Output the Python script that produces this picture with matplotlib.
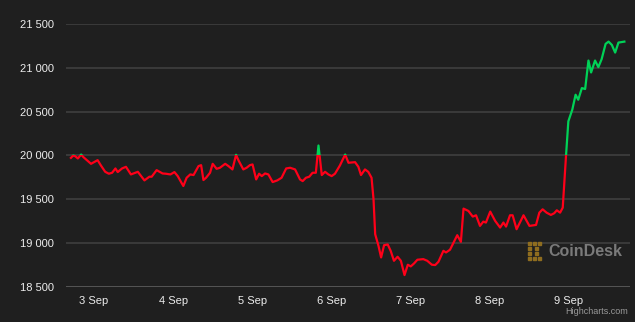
import numpy as np
import matplotlib.pyplot as plt
from matplotlib.patches import Rectangle

# hours since 3 Sep 00:00, and price (USD)
hours = [-7.0, -6.3, -5.7, -4.9, -3.9, -3.2, -2.4, -0.9, 1.1, 2.1, 3.4, 4.5, 5.5, 6.5,
         7.2, 8.5, 9.7, 11.2, 13.3, 15.3, 16.8, 17.5, 19.0, 20.8, 21.8, 23.2, 24.4,
         25.4, 27.1, 28.1, 29.2, 30.2, 31.7, 32.5, 33.2, 34.0, 35.2, 36.0, 37.2, 38.2,
         39.8, 40.8, 42.0, 43.1, 43.8, 45.3, 46.3, 47.3, 48.1, 49.2, 50.1, 50.9, 51.9,
         52.9, 54.2, 55.6, 56.9, 58.3, 59.5, 61.0, 62.5, 63.3, 64.3, 65.3, 66.3, 67.3,
         68.1, 69.1, 70.1, 71.1, 72.1, 73.1, 74.6, 76.2, 77.2, 79.2, 80.2, 81.0, 82.2,
         83.2, 84.2, 84.8, 85.3, 86.3, 87.1, 88.0, 89.1, 90.0, 91.0, 92.1, 93.1, 94.2,
         95.2, 96.1, 97.1, 98.1, 99.9, 101.1, 102.5, 103.5, 104.5, 106.0, 106.8, 108.0,
         110.2, 111.3, 112.1, 113.6, 114.9, 115.9, 117.1, 118.1, 118.9, 120.2, 121.7,
         123.2, 124.2, 125.0, 126.2, 127.0, 128.2, 130.3, 132.1, 134.1, 135.1, 136.1,
         137.3, 138.6, 139.6, 140.4, 141.4, 142.2, 143.2, 143.9, 145.1, 146.1, 146.9,
         148.0, 149.0, 150.0, 150.8, 152.0, 153.0, 154.0, 155.2, 156.1, 157.1, 158.1,
         159.1, 160.9]
price = [19973, 20000, 19992, 19966, 20011, 19981, 19955, 19905, 19947, 19886, 19814,
         19792, 19803, 19852, 19811, 19852, 19871, 19784, 19814, 19716, 19758, 19758,
         19833, 19795, 19792, 19784, 19811, 19765, 19652, 19746, 19784, 19777, 19879,
         19890, 19720, 19746, 19803, 19905, 19848, 19860, 19905, 19879, 19841, 20008,
         19947, 19841, 19860, 19890, 19898, 19727, 19792, 19765, 19795, 19784, 19697,
         19716, 19746, 19852, 19860, 19841, 19727, 19708, 19746, 19758, 19803, 19803,
         20114, 19777, 19814, 19784, 19765, 19792, 19886, 20011, 19917, 19924, 19871,
         19777, 19841, 19814, 19746, 19500, 19102, 18970, 18837, 18977, 18985, 18913,
         18799, 18845, 18799, 18636, 18754, 18735, 18769, 18811, 18818, 18799, 18754,
         18750, 18788, 18913, 18894, 18925, 19091, 19015, 19394, 19367, 19303, 19318,
         19197, 19246, 19235, 19360, 19254, 19178, 19235, 19189, 19318, 19318, 19159,
         19318, 19197, 19208, 19348, 19386, 19348, 19322, 19341, 19375, 19348, 19405,
         20000, 20390, 20523, 20693, 20636, 20769, 20758, 21083, 20947, 21083, 21008,
         21099, 21273, 21299, 21261, 21174, 21288, 21299]
threshold = 20000

day_ticks = [0, 24, 48, 72, 96, 120, 144]
day_labels = ['3 Sep', '4 Sep', '5 Sep', '6 Sep', '7 Sep', '8 Sep', '9 Sep']
y_ticks = [18500, 19000, 19500, 20000, 20500, 21000, 21500]
y_labels = ['18 500', '19 000', '19 500', '20 000', '20 500', '21 000', '21 500']

bg = '#1f1f1f'
plt.rcParams['font.family'] = ['Liberation Sans', 'DejaVu Sans']

fig = plt.figure(figsize=(6.35, 3.22), dpi=100, facecolor=bg)
ax = fig.add_axes([0.1039, 0.1087, 0.8882, 0.8168], facecolor=bg)

ax.set_xlim(-8.5, 162.6)
ax.set_ylim(18500, 21500)

for yv in y_ticks[1:]:
    ax.axhline(yv, color='#3a3a3a', lw=1.4, zorder=1)
ax.axhline(y_ticks[0], color='#555555', lw=1.4, zorder=1)

# zones: green above threshold, red below
lo, hi = ax.get_xlim()
above = Rectangle((lo, threshold), hi - lo, 5000, transform=ax.transData)
below = Rectangle((lo, threshold - 5000), hi - lo, 5000, transform=ax.transData)
l1, = ax.plot(hours, price, color='#00d257', lw=1.6, zorder=3, solid_joinstyle='round')
l1.set_clip_path(above)
l2, = ax.plot(hours, price, color='#ff0019', lw=1.6, zorder=3, solid_joinstyle='round')
l2.set_clip_path(below)

for s in ax.spines.values():
    s.set_visible(False)
ax.set_xticks(day_ticks)
ax.set_xticklabels(day_labels, color='#ececec', fontsize=8)
ax.set_yticks(y_ticks)
ax.set_yticklabels(y_labels, color='#ececec', fontsize=8)
ax.tick_params(axis='both', length=0)
ax.tick_params(axis='x', pad=6.5)
ax.tick_params(axis='y', pad=8.5)

# CoinDesk watermark
gold = '#8f6d1f'
for (px, py) in [(528, 242), (528, 247), (528, 252), (528, 257), (533, 242), (538, 242),
                 (533, 257), (538, 257), (535, 247), (535, 252)]:
    fig.patches.append(Rectangle((px / 635, 1 - (py + 3) / 322), 3 / 635, 3 / 322,
                                 transform=fig.transFigure, color=gold, zorder=5))
fig.text(548 / 635, 1 - 252 / 322, 'CoinDesk', color='#7a7a7a', fontsize=11.5,
         fontweight='bold', va='center', ha='left')
fig.text(628 / 635, 1 - 311 / 322, 'Highcharts.com', color='#999999', fontsize=6.5,
         va='center', ha='right')

fig.savefig('out.png', dpi=100, facecolor=bg)
